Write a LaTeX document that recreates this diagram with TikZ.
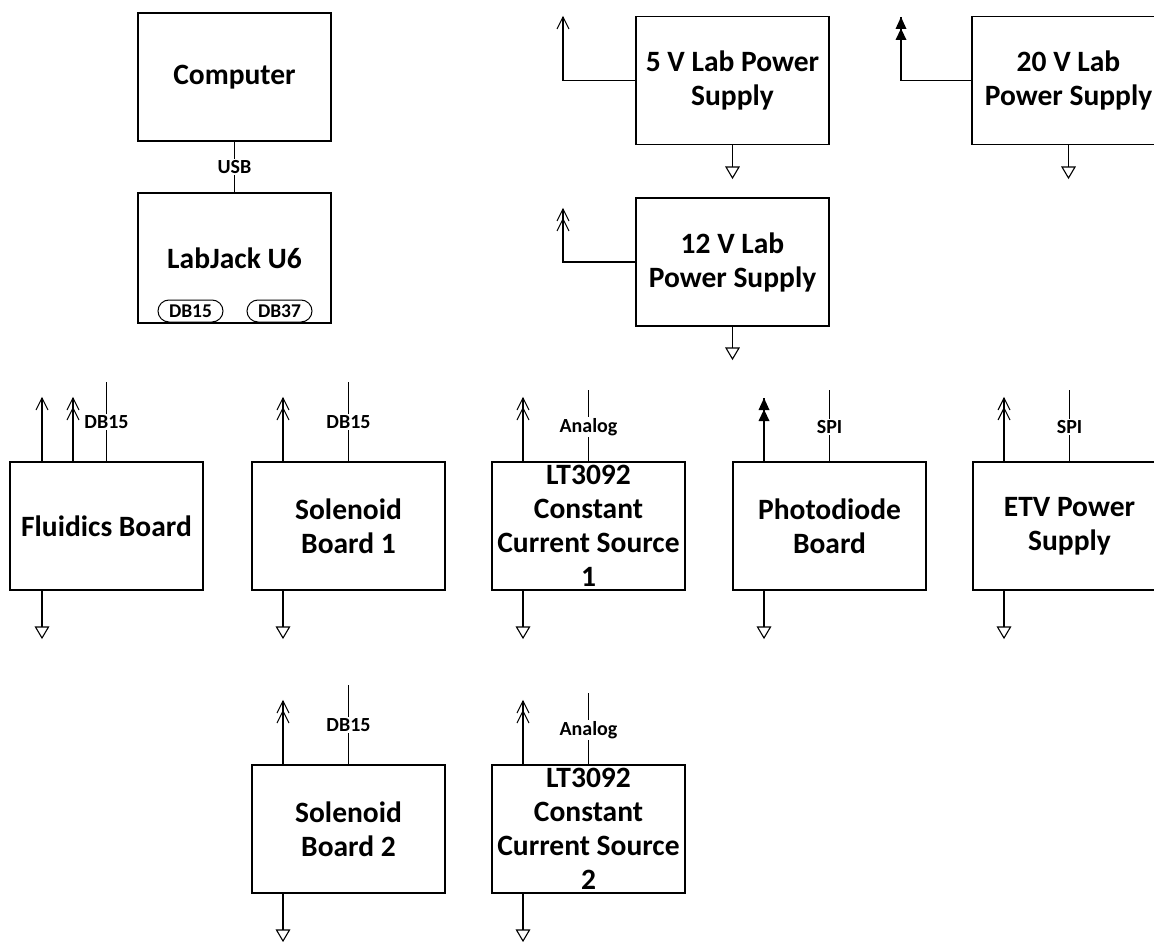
\documentclass[tikz,border=0pt]{standalone}
\usepackage{fontspec}
\setmainfont{Carlito}
\begin{document}
\begin{tikzpicture}[x=1pt,y=-1pt,
  box/.style={draw, line width=1.4pt, minimum width=193pt, minimum height=128pt,
    inner sep=0pt, align=center, font=\fontsize{29.5}{34}\selectfont\bfseries},
  wire/.style={line width=1.1pt},
  sig/.style={fill=white, inner sep=1.5pt, font=\fontsize{20}{22}\selectfont\bfseries},
  port/.style={draw, line width=1pt, rounded corners=11pt, minimum width=65pt,
    minimum height=22pt, inner sep=0pt, font=\fontsize{19.5}{20}\selectfont\bfseries},
  chev/.pic={\draw[wire] (-6,12) -- (0,0) -- (6,12);},
  chevtwo/.pic={\draw[wire] (-6,12) -- (0,0) -- (6,12);
                \draw[wire] (-6,22) -- (0,10) -- (6,22);},
  fillpair/.pic={\fill (0,0) -- (5.5,12) -- (-5.5,12) -- cycle;
                 \fill (0,11.5) -- (5.5,23) -- (-5.5,23) -- cycle;},
  gnd/.pic={\draw[wire, fill=white, line join=miter] (-6.5,0) -- (6.5,0) -- (0,11) -- cycle;}
]
\useasboundingbox (0,0) rectangle (1154,942);
\clip (0,0) rectangle (1154,942);

% ---- computer and DAQ ----
\node[box] (comp) at (234.5,77) {Computer};
\node[box, minimum height=130pt] (lj) at (234.5,258) {LabJack U6};
\node[port] (ljdb15) at (190.5,311) {DB15};
\node[port] (ljdb37) at (279.5,311) {DB37};
\draw[wire] (comp.south) -- (lj.north) node[midway, sig] {USB};

% ---- bench supplies ----
\node[box] (ps5)  at (732.5,80.5) {5 V Lab Power\\Supply};
\node[box] (ps12) at (732.5,262)  {12 V Lab\\Power Supply};
\node[box] (ps20) at (1068.5,80.5) {20 V Lab\\Power Supply};

\coordinate (ps5v) at (563,17);
\coordinate (ps12v) at (563,209);
\coordinate (ps20v) at (901,17);
\draw[wire] (ps5.west) -| (ps5v);   \pic at (ps5v) {chev};
\draw[wire] (ps12.west) -| (ps12v); \pic at (ps12v) {chevtwo};
\draw[wire] (ps20.west) -| (ps20v); \pic at (ps20v) {fillpair};

\coordinate (ps5g) at (732.5,167);
\coordinate (ps12g) at (732.5,348);
\coordinate (ps20g) at (1068.5,167);
\draw[wire] (ps5.south) -- (ps5g);   \pic at (ps5g) {gnd};
\draw[wire] (ps12.south) -- (ps12g); \pic at (ps12g) {gnd};
\draw[wire] (ps20.south) -- (ps20g); \pic at (ps20g) {gnd};

% ---- boards, second row ----
\node[box] (fluid) at (106.5,526) {Fluidics Board};
\node[box] (sol1)  at (348.5,526) {Solenoid\\Board 1};
\node[box] (cc1)   at (588.5,526) {LT3092\\Constant\\Current Source\\1};
\node[box] (photo) at (829.5,526) {Photodiode\\Board};
\node[box] (etv)   at (1069.5,526) {ETV Power\\Supply};

% ---- boards, third row ----
\node[box] (sol2) at (348.5,829) {Solenoid\\Board 2};
\node[box] (cc2)  at (588.5,829) {LT3092\\Constant\\Current Source\\2};

% supply inputs
\coordinate (fluidva) at (42,398);
\coordinate (fluidvb) at (73,398);
\coordinate (sol1v) at (283,398);
\coordinate (cc1v) at (523,398);
\coordinate (photov) at (764,398);
\coordinate (etvv) at (1004,398);
\coordinate (sol2v) at (283,701);
\coordinate (cc2v) at (523,701);
\draw[wire] (fluid.north -| fluidva) -- (fluidva); \pic at (fluidva) {chev};
\draw[wire] (fluid.north -| fluidvb) -- (fluidvb); \pic at (fluidvb) {chevtwo};
\draw[wire] (sol1.north -| sol1v) -- (sol1v);     \pic at (sol1v) {chevtwo};
\draw[wire] (cc1.north -| cc1v) -- (cc1v);        \pic at (cc1v) {chevtwo};
\draw[wire] (photo.north -| photov) -- (photov);  \pic at (photov) {fillpair};
\draw[wire] (etv.north -| etvv) -- (etvv);        \pic at (etvv) {chevtwo};
\draw[wire] (sol2.north -| sol2v) -- (sol2v);     \pic at (sol2v) {chevtwo};
\draw[wire] (cc2.north -| cc2v) -- (cc2v);        \pic at (cc2v) {chevtwo};

% grounds
\coordinate (fluidg) at (42,627);
\coordinate (sol1g) at (283,627);
\coordinate (cc1g) at (523,627);
\coordinate (photog) at (764,627);
\coordinate (etvg) at (1004,627);
\coordinate (sol2g) at (283,930);
\coordinate (cc2g) at (523,930);
\draw[wire] (fluid.south -| fluidg) -- (fluidg); \pic at (fluidg) {gnd};
\draw[wire] (sol1.south -| sol1g) -- (sol1g);    \pic at (sol1g) {gnd};
\draw[wire] (cc1.south -| cc1g) -- (cc1g);       \pic at (cc1g) {gnd};
\draw[wire] (photo.south -| photog) -- (photog); \pic at (photog) {gnd};
\draw[wire] (etv.south -| etvg) -- (etvg);       \pic at (etvg) {gnd};
\draw[wire] (sol2.south -| sol2g) -- (sol2g);    \pic at (sol2g) {gnd};
\draw[wire] (cc2.south -| cc2g) -- (cc2g);       \pic at (cc2g) {gnd};

% signal connections
\coordinate (fluids) at (106.5,382);
\coordinate (sol1s) at (348.5,382);
\coordinate (cc1s) at (588.5,390);
\coordinate (photos) at (829.5,390);
\coordinate (etvs) at (1069.5,390);
\coordinate (sol2s) at (348.5,685);
\coordinate (cc2s) at (588.5,693);
\draw[wire] (fluid.north) -- (fluids);
\node[sig] (fluidl) at (106.5,422) {DB15};
\draw[wire] (sol1.north) -- (sol1s);
\node[sig] (sol1l) at (348.5,422) {DB15};
\draw[wire] (cc1.north) -- (cc1s);
\node[sig] (cc1l) at (588.5,427) {Analog};
\draw[wire] (photo.north) -- (photos);
\node[sig] (photol) at (829.5,427) {SPI};
\draw[wire] (etv.north) -- (etvs);
\node[sig] (etvl) at (1069.5,427) {SPI};
\draw[wire] (sol2.north) -- (sol2s);
\node[sig] (sol2l) at (348.5,725) {DB15};
\draw[wire] (cc2.north) -- (cc2s);
\node[sig] (cc2l) at (588.5,730) {Analog};
\end{tikzpicture}
\end{document}
